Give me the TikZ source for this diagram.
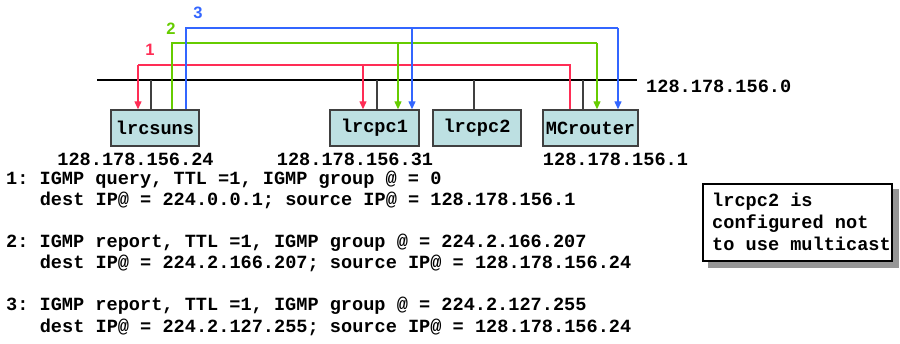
\documentclass[tikz,border=0pt]{standalone}
\usepackage{fontspec}
\setmainfont{Liberation Sans}
\setsansfont{Liberation Sans}
\setmonofont{Liberation Mono}
\usetikzlibrary{arrows.meta,backgrounds,calc}

\definecolor{msgred}{RGB}{255,45,85}
\definecolor{msggreen}{RGB}{102,204,0}
\definecolor{msgblue}{RGB}{51,102,255}
\definecolor{hostfill}{RGB}{189,224,226}
\definecolor{hostline}{RGB}{64,64,64}
\definecolor{shadowgray}{RGB}{150,150,150}

\tikzset{
  mono/.style={font=\fontsize{18.6}{22}\selectfont\ttfamily\bfseries, inner sep=0pt},
  host/.style={mono, draw=hostline, fill=hostfill, line width=1.4pt,
    minimum height=36pt},
  bus/.style={line width=1.4pt, black},
  stub/.style={line width=1.4pt, hostline},
  msg/.style={line width=1.3pt},
  tip/.style={-{Triangle[width=7pt,length=8pt]}},
  num/.style={font=\fontsize{16.5}{18}\selectfont\sffamily\bfseries, inner sep=0pt},
  textline/.style={mono, anchor=base west},
  iplabel/.style={mono, anchor=base},
  notebox/.style={draw=black, fill=white, line width=1.2pt,
    minimum width=189pt, minimum height=77pt, inner sep=0pt},
}

\begin{document}
\begin{tikzpicture}[x=1pt, y=-1pt]
  \useasboundingbox (0,0) rectangle (900,344);

  % LAN segment
  \coordinate (busL) at (97,80);
  \coordinate (busR) at (637,80);
  \draw[bus] (busL) -- (busR);
  \node[mono, anchor=base west] (net) at (646,92.3) {128.178.156.0};

  % hosts
  \node[host, minimum width=88pt] (lrcsuns)  at (155,128)   {lrcsuns};
  \node[host, minimum width=89pt] (lrcpc1)   at (374.5,128) {lrcpc1};
  \node[host, minimum width=88pt] (lrcpc2)   at (477,128)   {lrcpc2};
  \node[host, minimum width=95pt] (MCrouter) at (590.5,128) {MCrouter};

  % attachments to the segment
  \foreach \x/\h in {151/lrcsuns, 377/lrcpc1, 474/lrcpc2, 583/MCrouter}
    \draw[stub] (\x,80) -- (\x,80 |- \h.north);

  % host addresses
  \node[iplabel] (ipsuns)   at (135.5,165.3) {128.178.156.24};
  \node[iplabel] (ippc1)    at (355,165.3)   {128.178.156.31};
  \node[iplabel] (iprouter) at (615.5,165.3) {128.178.156.1};

  % message 1: query from MCrouter to all hosts
  \coordinate (rA) at (570,65);
  \coordinate (rB) at (138,65);
  \coordinate (rC) at (363,65);
  \draw[msg, msgred] (rA |- MCrouter.north) -- (rA) -- (rB);
  \draw[msg, msgred, tip] (rB) -- (rB |- lrcsuns.north);
  \draw[msg, msgred, tip] (rC) -- (rC |- lrcpc1.north);
  \node[num, text=msgred] (n1) at (150,50) {1};

  % message 2: report from lrcsuns
  \coordinate (gA) at (172,43);
  \coordinate (gB) at (597,43);
  \coordinate (gC) at (398,43);
  \draw[msg, msggreen] (gA |- lrcsuns.north) -- (gA) -- (gB);
  \draw[msg, msggreen, tip] (gB) -- (gB |- MCrouter.north);
  \draw[msg, msggreen, tip] (gC) -- (gC |- lrcpc1.north);
  \node[num, text=msggreen] (n2) at (171,29) {2};

  % message 3: report from lrcsuns
  \coordinate (bA) at (186,28);
  \coordinate (bB) at (618,28);
  \coordinate (bC) at (412,28);
  \draw[msg, msgblue] (bA |- lrcsuns.north) -- (bA) -- (bB);
  \draw[msg, msgblue, tip] (bB) -- (bB |- MCrouter.north);
  \draw[msg, msgblue, tip] (bC) -- (bC |- lrcpc1.north);
  \node[num, text=msgblue] (n3) at (198,13) {3};

  % message descriptions
  \node[textline] (m1a) at (6,184.5)    {1: IGMP query, TTL =1, IGMP group @ = 0};
  \node[textline] (m1b) at (39.6,206)   {dest IP@ = 224.0.0.1; source IP@ = 128.178.156.1};
  \node[textline] (m2a) at (6,247.5)    {2: IGMP report, TTL =1, IGMP group @ = 224.2.166.207};
  \node[textline] (m2b) at (39.6,269)   {dest IP@ = 224.2.166.207; source IP@ = 128.178.156.24};
  \node[textline] (m3a) at (6,311)      {3: IGMP report, TTL =1, IGMP group @ = 224.2.127.255};
  \node[textline] (m3b) at (39.6,332.5) {dest IP@ = 224.2.127.255; source IP@ = 128.178.156.24};

  % note with drop shadow
  \node[notebox] (note) at (797.5,222.5) {};
  \begin{scope}[on background layer]
    \fill[shadowgray] ($(note.north west)+(6,6)$) rectangle ($(note.south east)+(6,6)$);
  \end{scope}
  \node[textline] (nt1) at (712,206.5) {lrcpc2 is};
  \node[textline] (nt2) at (712,228.5) {configured not};
  \node[textline] (nt3) at (712,250.5) {to use multicast};
\end{tikzpicture}
\end{document}
